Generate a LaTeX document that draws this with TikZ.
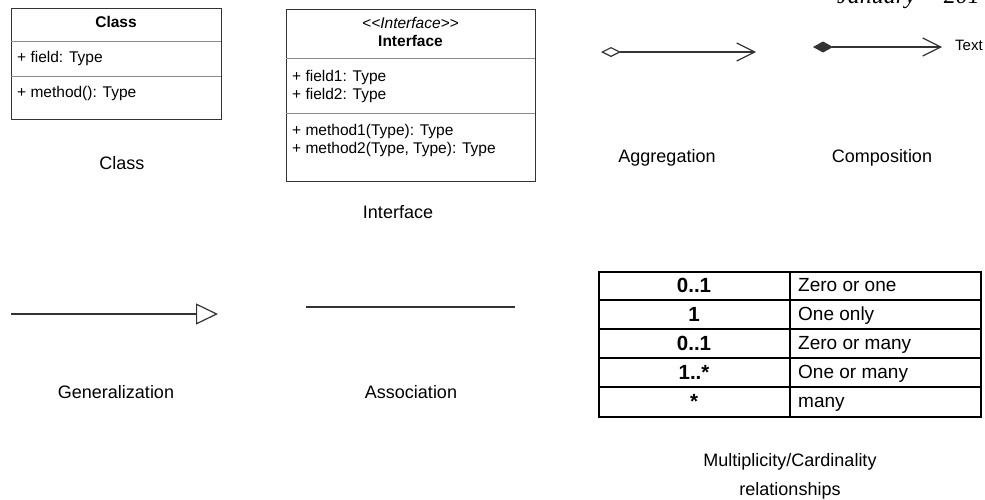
\documentclass[tikz,border=0pt]{standalone}
\usepackage{fontspec}
\setmainfont{Liberation Sans}
\newfontfamily\datefont{Liberation Serif}
\usetikzlibrary{arrows.meta}
\definecolor{ink}{HTML}{333333}
\definecolor{rulegray}{HTML}{8C8C8C}

\begin{document}
\begin{tikzpicture}[x=1pt,y=-1pt,
  boxframe/.style={draw=ink,line width=1.2pt,fill=white,inner sep=0pt,anchor=north west},
  divider/.style={draw=rulegray,line width=1pt},
  member/.style={anchor=base west,inner sep=0pt,font=\fontsize{15.5}{18}\selectfont},
  boxtitle/.style={anchor=base,inner sep=0pt,font=\bfseries\fontsize{15.5}{18}\selectfont},
  stereo/.style={anchor=base,inner sep=0pt,font=\itshape\fontsize{15.5}{18}\selectfont},
  caption/.style={anchor=base,inner sep=0pt,font=\fontsize{18}{22}\selectfont},
  link/.style={draw=ink,line width=1.2pt},
  tableframe/.style={draw=black,line width=2.2pt,inner sep=0pt,anchor=north west},
  tablerule/.style={draw=black,line width=2.2pt},
  mult/.style={anchor=base,inner sep=0pt,font=\bfseries\fontsize{20.5}{24}\selectfont},
  meaning/.style={anchor=base west,inner sep=0pt,font=\fontsize{19}{22}\selectfont},
]
\useasboundingbox (0,0) rectangle (985,499);
\clip (0,0) rectangle (985,499);

% running header of the page, cut by the top edge
\node[anchor=base west,inner sep=0pt,font=\datefont\itshape\fontsize{24}{28}\selectfont]
  (date) at (837,3.5) {January -- 2014};

% ---------- Class ----------
\node[boxframe,minimum width=210pt,minimum height=111pt] (classbox) at (11,8) {};
\draw[divider] (11,41) -- (221,41);
\draw[divider] (11,76) -- (221,76);
\node[boxtitle] (classname) at (116,27) {Class};
\node[member] (classfield) at (17,62) {+ field: Type};
\node[member] (classmethod) at (17,97) {+ method(): Type};
\node[caption] (classcap) at (122,169) {Class};

% ---------- Interface ----------
\node[boxframe,minimum width=249pt,minimum height=172pt] (ifacebox) at (286,9) {};
\draw[divider] (286,58) -- (535,58);
\draw[divider] (286,113) -- (535,113);
\node[stereo] (ifacestereo) at (410.5,28) {<\kern0pt<Interface>\kern0pt>};
\node[boxtitle] (ifacename) at (410.5,46) {Interface};
\node[member] (ifacefa) at (292,81) {+ field1: Type};
\node[member] (ifacefb) at (292,99) {+ field2: Type};
\node[member] (ifacema) at (292,135) {+ method1(Type): Type};
\node[member] (ifacemb) at (292,153) {+ method2(Type, Type): Type};
\node[caption] (ifacecap) at (398,218) {Interface};

% ---------- Aggregation ----------
\coordinate (aggA) at (601,52);
\coordinate (aggB) at (756,52);
\draw[link,{Diamond[open,length=20pt,width=10pt]}-{Straight Barb[length=18pt,width=18pt]}] (aggA) -- (aggB);
\node[caption] (aggcap) at (667,162) {Aggregation};

% ---------- Composition ----------
\coordinate (compA) at (813,47);
\coordinate (compB) at (942,47);
\draw[link,{Diamond[length=20pt,width=11pt]}-{Straight Barb[length=18pt,width=18pt]}] (compA) -- (compB);
\node[anchor=base west,inner sep=0pt,font=\fontsize{15}{18}\selectfont] (comptext) at (955,50) {Text};
\node[caption] (compcap) at (882,162) {Composition};

% ---------- Generalization ----------
\coordinate (genA) at (11,314);
\coordinate (genB) at (218,314);
\draw[link,-{Triangle[open,length=22pt,width=21pt]}] (genA) -- (genB);
\node[caption] (gencap) at (116,398) {Generalization};

% ---------- Association ----------
\coordinate (assocA) at (306,307);
\coordinate (assocB) at (515,307);
\draw[link] (assocA) -- (assocB);
\node[caption] (assoccap) at (411,398) {Association};

% ---------- Multiplicity table ----------
\node[tableframe,minimum width=382pt,minimum height=145pt] (multtable) at (598,271) {};
\draw[tablerule] (790,271) -- (790,416);
\foreach \yy in {300,329,358,387} \draw[tablerule] (598,\yy) -- (980,\yy);

\node[mult] (mzo) at (694,292.5) {0..1};
\node[mult] (mone) at (694,321.5) {1};
\node[mult] (mzm) at (694,350.5) {0..1};
\node[mult] (mom) at (694,379.5) {1..*};
\node[mult] (mmany) at (694,408.5) {*};

\node[meaning] (tzo) at (798,291) {Zero or one};
\node[meaning] (tone) at (798,320) {One only};
\node[meaning] (tzm) at (798,349) {Zero or many};
\node[meaning] (tom) at (798,378) {One or many};
\node[meaning] (tmany) at (798,407) {many};

\node[caption] (multcapa) at (790,466) {Multiplicity/Cardinality};
\node[caption] (multcapb) at (790,495) {relationships};
\end{tikzpicture}
\end{document}
